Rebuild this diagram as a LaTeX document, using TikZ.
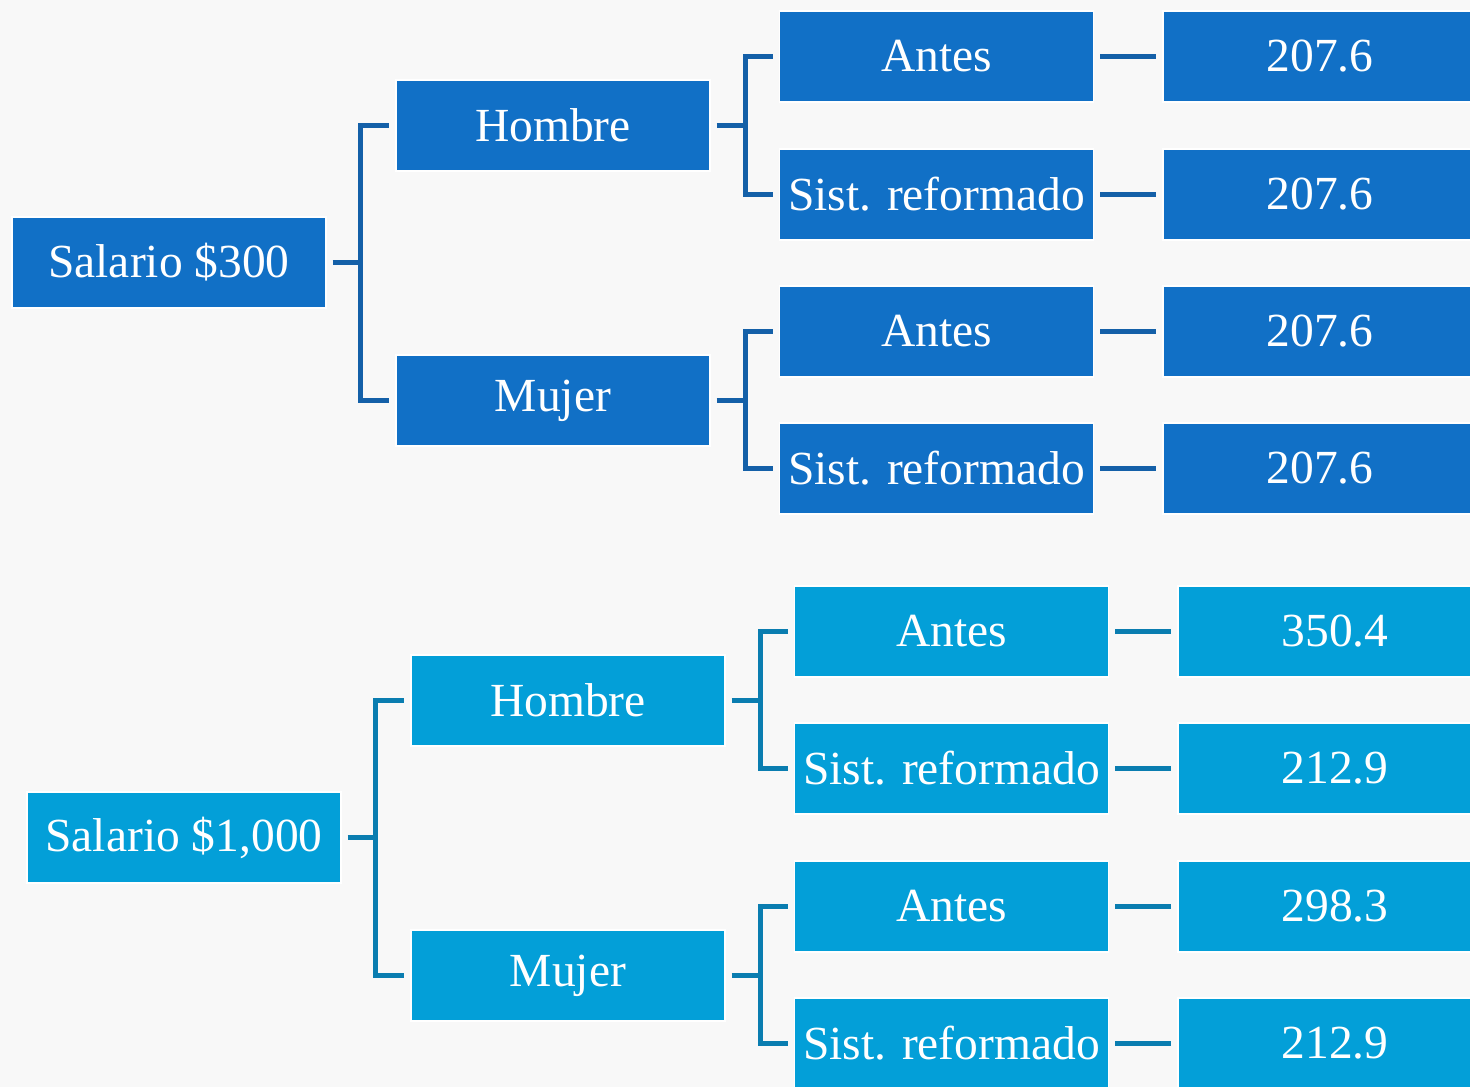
\documentclass[tikz,border=0pt]{standalone}
\usepackage{fontspec}
\setmainfont{Liberation Serif}
\usepackage{tikz}

\definecolor{darkbox}{HTML}{1170C6}
\definecolor{darklink}{HTML}{1460A8}
\definecolor{lightbox}{HTML}{039FD8}
\definecolor{lightlink}{HTML}{0A7DB0}
\definecolor{paper}{HTML}{F8F8F8}

\begin{document}
\begin{tikzpicture}[
        x=1pt, y=-1pt,
        box/.style={draw=white, line width=1.5pt, fill=#1, text=white,
          minimum width=314pt, minimum height=91pt, inner sep=0pt,
          font=\fontsize{47.5}{52}\selectfont},
        link/.style={draw=#1, line width=5pt},
        elbow/.style={to path={([xshift=6pt]\tikztostart.east) -- ++(#1,0)
          |- ([xshift=-6pt]\tikztotarget.west)}},
        straight/.style={to path={([xshift=6pt]\tikztostart.east)
          -- ([xshift=-6pt]\tikztotarget.west)}}
      ]
      \useasboundingbox (0,0) rectangle (1470,1087);
      \clip (0,0) rectangle (1470,1087);
      \fill[paper] (0,0) rectangle (1470,1087);

      % salario 300
      \node[box=darkbox] (s300) at (169,262.5) {Salario \$300};
      \node[box=darkbox] (h300) at (553,125.5) {Hombre};
      \node[box=darkbox] (m300) at (553,400.5) {Mujer};
      \node[box=darkbox] (ha300) at (936.5,56.5) {Antes};
      \node[box=darkbox] (hs300) at (936.5,194.5) {Sist. reformado};
      \node[box=darkbox] (ma300) at (936.5,331.5) {Antes};
      \node[box=darkbox] (ms300) at (936.5,468.5) {Sist. reformado};
      \node[box=darkbox] (hav300) at (1320,56.5) {207.6};
      \node[box=darkbox] (hsv300) at (1320,194.5) {207.6};
      \node[box=darkbox] (mav300) at (1320,331.5) {207.6};
      \node[box=darkbox] (msv300) at (1320,468.5) {207.6};

      \draw[link=darklink] (s300) to[elbow=28pt] (h300);
      \draw[link=darklink] (s300) to[elbow=28pt] (m300);
      \draw[link=darklink] (h300) to[elbow=29pt] (ha300);
      \draw[link=darklink] (h300) to[elbow=29pt] (hs300);
      \draw[link=darklink] (m300) to[elbow=29pt] (ma300);
      \draw[link=darklink] (m300) to[elbow=29pt] (ms300);
      \draw[link=darklink] (ha300) to[straight] (hav300);
      \draw[link=darklink] (hs300) to[straight] (hsv300);
      \draw[link=darklink] (ma300) to[straight] (mav300);
      \draw[link=darklink] (ms300) to[straight] (msv300);

      % salario 1000
      \node[box=lightbox] (s1000) at (184,837.5) {Salario \$1,000};
      \node[box=lightbox] (h1000) at (568,700.5) {Hombre};
      \node[box=lightbox] (m1000) at (568,975.5) {Mujer};
      \node[box=lightbox] (ha1000) at (951.5,631.5) {Antes};
      \node[box=lightbox] (hs1000) at (951.5,768.5) {Sist. reformado};
      \node[box=lightbox] (ma1000) at (951.5,906.5) {Antes};
      \node[box=lightbox] (ms1000) at (951.5,1043.5) {Sist. reformado};
      \node[box=lightbox] (hav1000) at (1335,631.5) {350.4};
      \node[box=lightbox] (hsv1000) at (1335,768.5) {212.9};
      \node[box=lightbox] (mav1000) at (1335,906.5) {298.3};
      \node[box=lightbox] (msv1000) at (1335,1043.5) {212.9};

      \draw[link=lightlink] (s1000) to[elbow=28pt] (h1000);
      \draw[link=lightlink] (s1000) to[elbow=28pt] (m1000);
      \draw[link=lightlink] (h1000) to[elbow=29pt] (ha1000);
      \draw[link=lightlink] (h1000) to[elbow=29pt] (hs1000);
      \draw[link=lightlink] (m1000) to[elbow=29pt] (ma1000);
      \draw[link=lightlink] (m1000) to[elbow=29pt] (ms1000);
      \draw[link=lightlink] (ha1000) to[straight] (hav1000);
      \draw[link=lightlink] (hs1000) to[straight] (hsv1000);
      \draw[link=lightlink] (ma1000) to[straight] (mav1000);
      \draw[link=lightlink] (ms1000) to[straight] (msv1000);
\end{tikzpicture}
\end{document}
